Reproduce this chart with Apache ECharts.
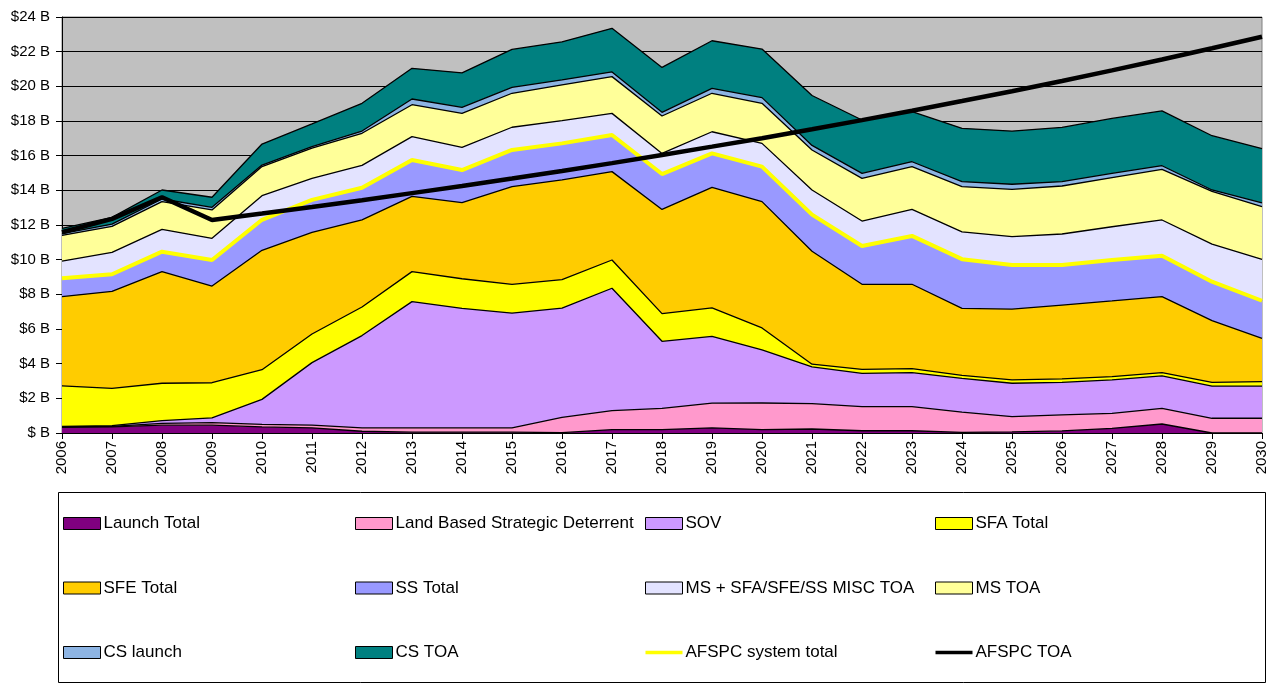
<!DOCTYPE html>
<html>
<head>
<meta charset="utf-8">
<script src="https://cdn.jsdelivr.net/npm/echarts@6/dist/echarts.min.js"></script>
<style>
html,body{margin:0;padding:0;background:#fff;}
#chart{width:1273px;height:687px;}
</style>
</head>
<body>
<div id="chart"></div>
<script>
const years = ['2006','2007','2008','2009','2010','2011','2012','2013','2014','2015','2016','2017','2018','2019','2020','2021','2022','2023','2024','2025','2026','2027','2028','2029','2030'];

const launchTotal = [0.33,0.35,0.45,0.45,0.35,0.30,0.10,0.05,0.05,0.05,0.02,0.20,0.20,0.30,0.20,0.23,0.13,0.13,0.04,0.06,0.12,0.27,0.52,0.00,0.00];
const landBased   = [0.02,0.03,0.10,0.15,0.15,0.15,0.20,0.24,0.24,0.24,0.88,1.09,1.22,1.42,1.53,1.47,1.39,1.39,1.16,0.88,0.92,0.86,0.90,0.85,0.85];
const sov         = [0.03,0.04,0.16,0.27,1.44,3.61,5.32,7.29,6.90,6.63,6.31,7.06,3.87,3.85,3.06,2.11,1.92,1.96,1.95,1.93,1.88,1.93,1.87,1.86,1.86];
const sfaTotal    = [2.34,2.16,2.16,2.03,1.71,1.65,1.65,1.73,1.71,1.66,1.64,1.63,1.60,1.65,1.27,0.16,0.23,0.23,0.18,0.19,0.20,0.19,0.19,0.21,0.25];
const sfeTotal    = [5.15,5.59,6.44,5.58,6.89,5.87,5.03,4.34,4.39,5.63,5.75,5.10,6.01,6.95,7.29,6.52,4.91,4.87,3.86,4.09,4.26,4.37,4.39,3.56,2.50];
const ssTotal     = [1.06,0.99,1.15,1.50,1.76,1.87,1.85,2.10,1.88,2.12,2.11,2.11,2.04,1.96,2.02,2.11,2.21,2.79,2.84,2.54,2.31,2.36,2.36,2.25,2.17];
const msMisc      = [0.99,1.26,1.29,1.25,1.39,1.24,1.29,1.35,1.31,1.31,1.31,1.25,1.19,1.25,1.34,1.42,1.44,1.53,1.57,1.64,1.79,1.92,2.06,2.17,2.39];
const msToa       = [1.48,1.50,1.60,1.64,1.68,1.75,1.85,1.84,1.96,1.96,2.06,2.12,2.16,2.22,2.31,2.31,2.46,2.47,2.61,2.73,2.77,2.83,2.92,3.04,3.04];
const csLaunch    = [0.10,0.13,0.15,0.15,0.09,0.08,0.13,0.33,0.35,0.34,0.29,0.27,0.21,0.28,0.33,0.26,0.29,0.28,0.29,0.29,0.25,0.25,0.21,0.08,0.22];
const csToa       = [0.30,0.39,0.52,0.58,1.21,1.31,1.60,1.77,1.99,2.19,2.20,2.52,2.59,2.75,2.80,2.88,3.08,2.89,3.08,3.07,3.13,3.17,3.16,3.13,3.13];
const afspcSystemTotal = [8.93,9.16,10.46,9.98,12.30,13.45,14.15,15.75,15.17,16.33,16.71,17.19,14.94,16.13,15.37,12.60,10.79,11.37,10.03,9.69,9.69,9.98,10.23,8.73,7.63];
const afspcToa    = [11.58,12.35,13.60,12.29,12.66,13.04,13.43,13.84,14.25,14.68,15.12,15.57,16.04,16.52,17.01,17.52,18.05,18.59,19.15,19.72,20.31,20.92,21.55,22.20,22.86];

const yTicks = [0,2,4,6,8,10,12,14,16,18,20,22,24];

const areaDefs = [
  ['Launch Total', launchTotal, '#800080'],
  ['Land Based Strategic Deterrent', landBased, '#FF99CC'],
  ['SOV', sov, '#CC99FF'],
  ['SFA Total', sfaTotal, '#FFFF00'],
  ['SFE Total', sfeTotal, '#FFCC00'],
  ['SS Total', ssTotal, '#9999FF'],
  ['MS + SFA/SFE/SS MISC TOA', msMisc, '#E3E3FF'],
  ['MS TOA', msToa, '#FFFF99'],
  ['CS launch', csLaunch, '#8DB4E3'],
  ['CS TOA', csToa, '#008080']
];

const series = areaDefs.map(d => ({
  name: d[0], type: 'line', stack: 'total', data: d[1],
  symbol: 'none', showSymbol: false, color: d[2],
  lineStyle: {color: '#000', width: 1.3},
  areaStyle: {color: d[2], opacity: 1},
  emphasis: {disabled: true}
}));
series.push({
  name: 'AFSPC system total', type: 'line', data: afspcSystemTotal,
  symbol: 'none', showSymbol: false, color: '#FFFF00',
  lineStyle: {color: '#FFFF00', width: 4}, z: 5, emphasis: {disabled: true}
});
series.push({
  name: 'AFSPC TOA', type: 'line', data: afspcToa,
  symbol: 'none', showSymbol: false, color: '#000',
  lineStyle: {color: '#000', width: 4.5}, z: 6, emphasis: {disabled: true}
});

const colorOf = {};
areaDefs.forEach(d => colorOf[d[0]] = d[2]);
const linePath = 'path://M0,0 L40,0 L40,4 L0,4 Z';
function legItem(name) {
  if (name === 'AFSPC system total') return {name, icon: linePath, itemStyle: {color: '#FFFF00', borderWidth: 0}};
  if (name === 'AFSPC TOA') return {name, icon: linePath, itemStyle: {color: '#000', borderWidth: 0}};
  return {name, icon: 'rect', itemStyle: {color: colorOf[name], borderColor: '#000', borderWidth: 1}};
}
const cols = [
  [63, ['Launch Total', 'SFE Total', 'CS launch']],
  [355, ['Land Based Strategic Deterrent', 'SS Total', 'CS TOA']],
  [645, ['SOV', 'MS + SFA/SFE/SS MISC TOA', 'AFSPC system total']],
  [935, ['SFA Total', 'MS TOA', 'AFSPC TOA']]
];
const legends = cols.map(c => ({
  orient: 'vertical', left: c[0], top: 515, itemGap: 47.5, padding: 0,
  itemWidth: 37, itemHeight: 12, selectedMode: false,
  textStyle: {fontFamily: 'Liberation Sans, Arial, sans-serif', fontSize: 17, color: '#000', padding: [0,0,0,-2]},
  data: c[1].map(legItem)
}));

const chart = echarts.init(document.getElementById('chart'), null, {renderer: 'canvas'});
chart.setOption({
  animation: false,
  backgroundColor: '#fff',
  grid: {left: 62, right: 11, top: 17, bottom: 254, show: true, backgroundColor: '#C0C0C0', borderColor: '#808080', borderWidth: 1},
  legend: legends,
  graphic: [{type: 'rect', shape: {x: 58.5, y: 492.5, width: 1207, height: 190}, style: {fill: 'none', stroke: '#000', lineWidth: 1}, silent: true, z: -1}],
  xAxis: {
    type: 'category', data: years, boundaryGap: false,
    axisLine: {lineStyle: {color: '#000', width: 1}},
    axisTick: {show: true, length: 6, lineStyle: {color: '#000'}},
    axisLabel: {rotate: 90, fontFamily: 'Liberation Sans, Arial, sans-serif', fontSize: 15, color: '#000', margin: 8, interval: 0},
    splitLine: {show: false}
  },
  yAxis: {
    type: 'value', min: 0, max: 24, interval: 2,
    axisLine: {show: true, lineStyle: {color: '#000', width: 1}},
    axisTick: {show: true, length: 6, lineStyle: {color: '#000'}},
    axisLabel: {fontFamily: 'Liberation Sans, Arial, sans-serif', fontSize: 15, color: '#000', margin: 12,
      formatter: v => yTicks.indexOf(v) >= 0 ? (v === 0 ? '$ B' : '$' + v + ' B') : ''},
    splitLine: {show: true, lineStyle: {color: '#000', width: 1}}
  },
  series: series
});
</script>
</body>
</html>
